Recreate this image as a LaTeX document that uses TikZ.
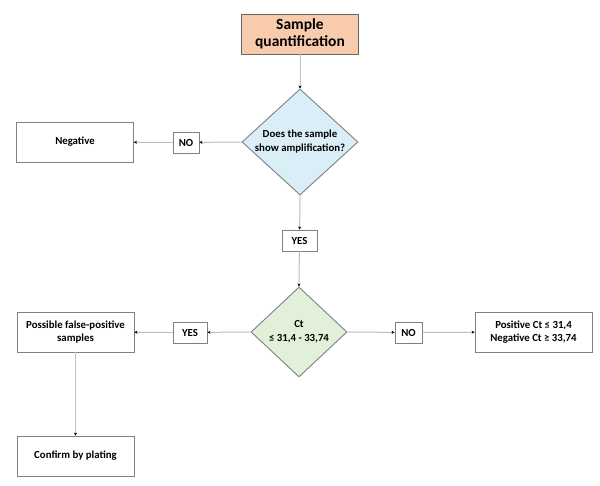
\documentclass[tikz,border=0pt]{standalone}
\usepackage{fontspec}
\setmainfont{Carlito}
\usepackage{tikz}
\usetikzlibrary{arrows.meta,shapes.geometric}
\definecolor{peach1}{HTML}{F8CBAD}
\definecolor{blue1}{HTML}{DAEEF8}
\definecolor{green1}{HTML}{E2F0D9}
\definecolor{edge1}{HTML}{7F7F7F}
\definecolor{line1}{HTML}{BFBFBF}

\begin{document}
\begin{tikzpicture}[
    x=1pt, y=-1pt,
    box/.style={draw=edge1, line width=0.9pt, fill=white,
                minimum width=117pt, minimum height=40pt,
                font=\bfseries\fontsize{10.8}{12.8}\selectfont,
                align=center, inner sep=2pt},
    tag/.style={draw=edge1, line width=0.9pt, fill=white,
                minimum height=21pt, inner sep=1pt,
                font=\bfseries\fontsize{10.8}{12.8}\selectfont},
    dia/.style={diamond, draw=edge1, line width=0.9pt,
                font=\bfseries\fontsize{10.8}{14}\selectfont,
                align=center, inner sep=-10pt},
    arr/.style={line1, line width=1pt,
                -{Stealth[length=3pt, width=3pt, color=black]}},
]
\useasboundingbox (0,0) rectangle (600,486);

% top of the chart
\node[box, fill=peach1, draw=edge1!80!black,
      font=\bfseries\fontsize{15.5}{17.5}\selectfont]
    (sample) at (300,34) {Sample\\quantification};
\node[dia, fill=blue1, minimum width=116pt, minimum height=106pt]
    (ampl) at (300,142) {Does the sample\\show amplification?};
\node[tag, minimum width=26pt] (no1) at (186,142.5) {NO};
\node[box] (neg) at (75,142) {Negative};
\node[tag, minimum width=35pt] (yes1) at (299.5,240.5) {YES};

\draw[arr] (sample) -- (ampl);
\draw[arr] (ampl.west) -- (no1);
\draw[arr] (no1) -- (neg);
\draw[arr] (ampl.south) -- (yes1);

% Ct threshold
\node[dia, fill=green1, minimum width=96pt, minimum height=90pt]
    (ct) at (299,332) {Ct\\≤ 31,4 - 33,74};
\node[tag, minimum width=34pt] (yes2) at (190,332.5) {YES};
\node[box] (fpos) at (75.5,332) {Possible false-positive\\samples};
\node[tag, minimum width=27pt] (no2) at (408.5,332.5) {NO};
\node[box] (res) at (533.5,332)
    {Positive Ct ≤ 31,4\\Negative Ct ≥ 33,74};
\node[box] (plate) at (75.5,456) {Confirm by plating};

\draw[arr] (yes1) -- (ct.north);
\draw[arr] (ct.west) -- (yes2);
\draw[arr] (yes2) -- (fpos);
\draw[arr] (ct.east) -- (no2);
\draw[arr] (no2) -- (res);
\draw[arr] (fpos) -- (plate);
\end{tikzpicture}
\end{document}
